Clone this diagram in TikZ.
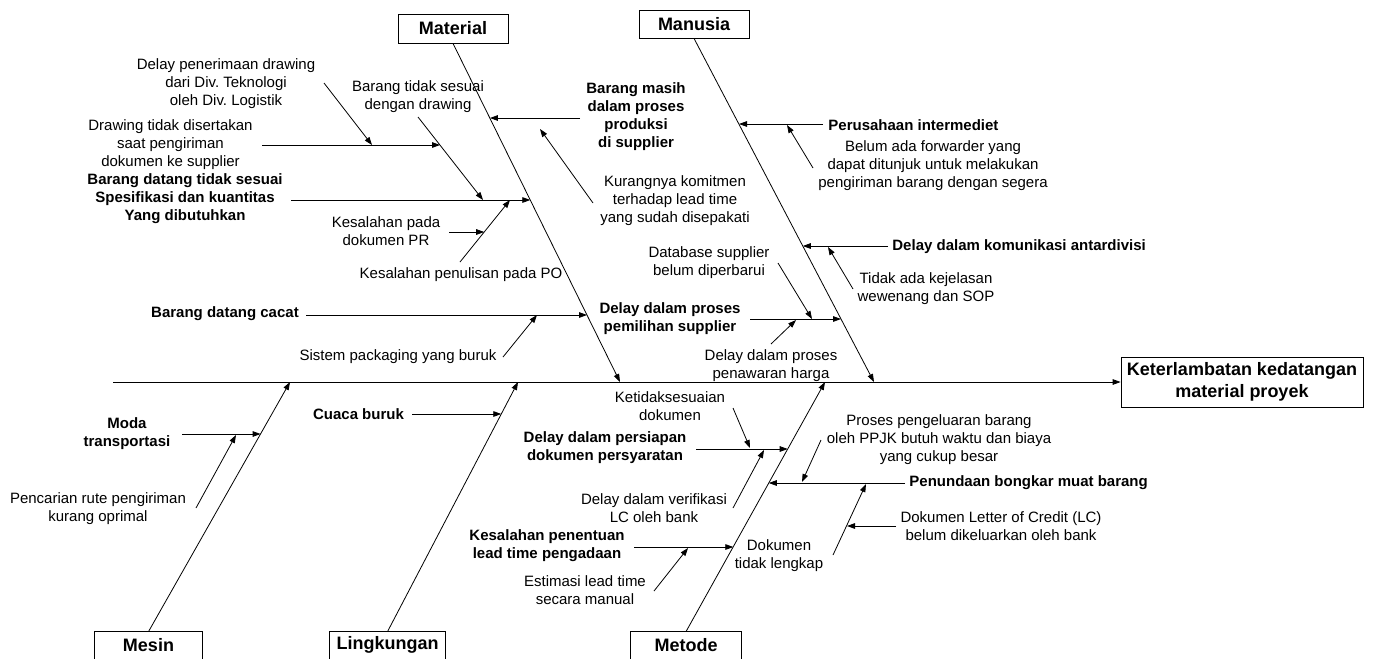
\documentclass[tikz,border=0pt]{standalone}
\usepackage{fontspec}
\setmainfont{Liberation Sans}
\usetikzlibrary{arrows.meta}
\frenchspacing
\begin{document}
\begin{tikzpicture}[x=0.75pt,y=-0.75pt,
  line width=0.6pt,
  arr/.style={-{Triangle[length=6pt,width=4.2pt]}},
  txt/.style={inner sep=0pt,align=center,font=\fontsize{11.25pt}{13.5pt}\selectfont},
  btxt/.style={inner sep=0pt,align=center,font=\fontsize{11.25pt}{13.5pt}\selectfont\bfseries},
  cat/.style={draw,inner sep=0pt,align=center,font=\fontsize{13.5pt}{16.5pt}\selectfont\bfseries},
  catb/.style={inner sep=0pt,minimum height=19.5pt,font=\fontsize{13.5pt}{16.5pt}\selectfont\bfseries},
]
\fill[white] (0,0) rectangle (1387,658);
\clip (0,0) rectangle (1387,658);

% ---------- effect and spine ----------
\node[cat,minimum width=181.5pt,minimum height=37.5pt] (effect) at (1242,382)
  {Keterlambatan kedatangan\\material proyek};
\coordinate (tail) at (113,382);
\draw[arr] (tail) -- (effect.west);

% ---------- category boxes ----------
\node[cat,minimum width=82.5pt,minimum height=21.75pt] (material) at (453,28.5) {Material};
\node[cat,minimum width=82.5pt,minimum height=21pt] (manusia) at (694,24) {Manusia};

\node[catb,minimum width=80.25pt] (mesin) at (148.5,645) {Mesin};
\draw ([yshift=-20pt]mesin.south west) -- (mesin.north west) -- (mesin.north east) -- ([yshift=-20pt]mesin.south east);
\node[catb,minimum width=86.25pt] (lingkungan) at (387.5,645) {Lingkungan};
\draw ([yshift=-20pt]lingkungan.south west) -- (lingkungan.north west) -- (lingkungan.north east) -- ([yshift=-20pt]lingkungan.south east);
\node[catb,minimum width=82.5pt] (metode) at (686,645) {Metode};
\draw ([yshift=-20pt]metode.south west) -- (metode.north west) -- (metode.north east) -- ([yshift=-20pt]metode.south east);

% ---------- main bones ----------
\coordinate (matTip) at (620,382);
\coordinate (manTip) at (874,382);
\coordinate (mesTip) at (290,382);
\coordinate (linTip) at (518,382);
\coordinate (metTip) at (825,382);
\draw[arr] (material.south) -- (matTip);
\draw[arr] (manusia.south) -- (manTip);
\draw[arr] (mesin.north) -- (mesTip);
\draw[arr] (lingkungan.north) -- (linTip);
\draw[arr] (metode.north) -- (metTip);

% ---------- Material causes ----------
\node[btxt] (masih) at (636,117) {Barang masih\\dalam proses\\produksi\\di supplier};
\node[txt] (komitmen) at (675,201) {Kurangnya komitmen\\terhadap lead time\\yang sudah disepakati};
\node[txt] (penerimaan) at (226,83.5) {Delay penerimaan drawing\\dari Div. Teknologi\\oleh Div. Logistik};
\node[txt] (disertakan) at (170.5,145) {Drawing tidak disertakan\\saat pengiriman\\dokumen ke supplier};
\node[txt] (tdksesuai) at (418,97) {Barang tidak sesuai\\dengan drawing};
\node[btxt] (spesifikasi) at (185,199) {Barang datang tidak sesuai\\Spesifikasi dan kuantitas\\Yang dibutuhkan};
\node[txt] (pr) at (386,231) {Kesalahan pada\\dokumen PR};
\node[txt] (po) at (461,275) {Kesalahan penulisan pada PO};
\node[btxt] (cacat) at (225,314) {Barang datang cacat};
\node[txt] (packaging) at (398,357) {Sistem packaging yang buruk};

\coordinate (h1s) at (580,118);   \coordinate (h1e) at (489.9,118);
\coordinate (d0s) at (593,203);   \coordinate (d0e) at (540,129);
\coordinate (h2s) at (262,145);   \coordinate (h2e) at (440,145);
\coordinate (d1s) at (324,83);    \coordinate (d1e) at (372,145);
\coordinate (d2s) at (418,117);   \coordinate (d2e) at (483,200);
\coordinate (h3s) at (291,200);   \coordinate (h3e) at (530.3,200);
\coordinate (h4s) at (449,232);   \coordinate (h4e) at (484.2,232);
\coordinate (d3s) at (460,262);   \coordinate (d3e) at (510,200);
\coordinate (h5s) at (306,315);   \coordinate (h5e) at (587,315);
\coordinate (d4s) at (503,357);   \coordinate (d4e) at (537,315);

\draw[arr] (h1s) -- (h1e);
\draw[arr] (d0s) -- (d0e);
\draw[arr] (h2s) -- (h2e);
\draw[arr] (d1s) -- (d1e);
\draw[arr] (d2s) -- (d2e);
\draw[arr] (h3s) -- (h3e);
\draw[arr] (h4s) -- (h4e);
\draw[arr] (d3s) -- (d3e);
\draw[arr] (h5s) -- (h5e);
\draw[arr] (d4s) -- (d4e);

% ---------- Manusia causes ----------
\node[btxt,anchor=west] (intermediet) at (828,125) {Perusahaan intermediet};
\node[txt] (forwarder) at (933,166) {Belum ada forwarder yang\\dapat ditunjuk untuk melakukan\\pengiriman barang dengan segera};
\node[btxt,anchor=west] (komunikasi) at (892,247) {Delay dalam komunikasi antardivisi};
\node[txt] (kejelasan) at (926,289) {Tidak ada kejelasan\\wewenang dan SOP};
\node[btxt] (pemilihan) at (670,319) {Delay dalam proses\\pemilihan supplier};
\node[txt] (database) at (709,263) {Database supplier\\belum diperbarui};
\node[txt] (penawaran) at (771,366) {Delay dalam proses\\penawaran harga};

\coordinate (h6s) at (823,124);   \coordinate (h6e) at (739,124);
\coordinate (d5s) at (813,168);   \coordinate (d5e) at (787,125);
\coordinate (h7s) at (888,246);   \coordinate (h7e) at (802.8,246);
\coordinate (d6s) at (853,289);   \coordinate (d6e) at (828,247);
\coordinate (h8s) at (750,319);   \coordinate (h8e) at (841,319);
\coordinate (d7s) at (778,263);   \coordinate (d7e) at (812,319);
\coordinate (d8s) at (771,344);   \coordinate (d8e) at (796,320);

\draw[arr] (h6s) -- (h6e);
\draw[arr] (d5s) -- (d5e);
\draw[arr] (h7s) -- (h7e);
\draw[arr] (d6s) -- (d6e);
\draw[arr] (h8s) -- (h8e);
\draw[arr] (d7s) -- (d7e);
\draw[arr] (d8s) -- (d8e);

% ---------- Mesin causes ----------
\node[btxt] (moda) at (127,434) {Moda\\transportasi};
\node[txt] (rute) at (98,509) {Pencarian rute pengiriman\\kurang oprimal};
\coordinate (h9s) at (182,434);   \coordinate (h9e) at (260.6,434);
\coordinate (d9s) at (196,508);   \coordinate (d9e) at (236,435);
\draw[arr] (h9s) -- (h9e);
\draw[arr] (d9s) -- (d9e);

% ---------- Lingkungan causes ----------
\node[btxt] (cuaca) at (358.5,414) {Cuaca buruk};
\coordinate (h10s) at (412,414);  \coordinate (h10e) at (501.3,414);
\draw[arr] (h10s) -- (h10e);

% ---------- Metode causes ----------
\node[txt] (ketidaksesuaian) at (670,406.5) {Ketidaksesuaian\\dokumen};
\node[btxt] (persiapan) at (605,448) {Delay dalam persiapan\\dokumen persyaratan};
\node[txt] (verifikasi) at (654,508) {Delay dalam verifikasi\\LC oleh bank};
\node[btxt] (penentuan) at (547,546) {Kesalahan penentuan\\lead time pengadaan};
\node[txt] (estimasi) at (585,590) {Estimasi lead time\\secara manual};
\node[txt] (lengkap) at (779,556) {Dokumen\\tidak lengkap};
\node[btxt,anchor=west] (bongkar) at (909,483) {Penundaan bongkar muat barang};
\node[txt] (ppjk) at (939,440) {Proses pengeluaran barang\\oleh PPJK butuh waktu dan biaya\\yang cukup besar};
\node[txt] (lc) at (1001,526) {Dokumen Letter of Credit (LC)\\belum dikeluarkan oleh bank};

\coordinate (h11s) at (696,449);  \coordinate (h11e) at (787.7,449);
\coordinate (d10s) at (733,408);  \coordinate (d10e) at (750,448);
\coordinate (d11s) at (733,508);  \coordinate (d11e) at (764,450);
\coordinate (h12s) at (634,547);  \coordinate (h12e) at (733.3,547);
\coordinate (d12s) at (654,591);  \coordinate (d12e) at (688,548);
\coordinate (h13s) at (905,483);  \coordinate (h13e) at (768.8,483);
\coordinate (d13s) at (821,440);  \coordinate (d13e) at (802,482);
\coordinate (d14s) at (833,555);  \coordinate (d14e) at (866,484);
\coordinate (h14s) at (896,526);  \coordinate (h14e) at (847,526);

\draw[arr] (h11s) -- (h11e);
\draw[arr] (d10s) -- (d10e);
\draw[arr] (d11s) -- (d11e);
\draw[arr] (h12s) -- (h12e);
\draw[arr] (d12s) -- (d12e);
\draw[arr] (h13s) -- (h13e);
\draw[arr] (d13s) -- (d13e);
\draw[arr] (d14s) -- (d14e);
\draw[arr] (h14s) -- (h14e);
\end{tikzpicture}
\end{document}
